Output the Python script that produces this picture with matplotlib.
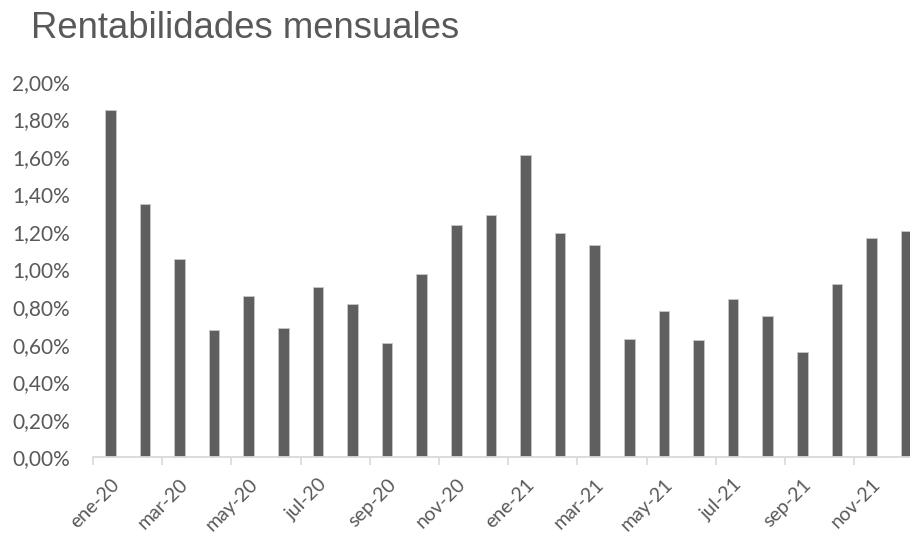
import matplotlib
matplotlib.use("Agg")
import matplotlib.pyplot as plt
from matplotlib.ticker import FixedLocator, FuncFormatter

# Monthly returns (%), January 2020 - December 2021
months = ["ene-20", "feb-20", "mar-20", "abr-20", "may-20", "jun-20",
          "jul-20", "ago-20", "sep-20", "oct-20", "nov-20", "dic-20",
          "ene-21", "feb-21", "mar-21", "abr-21", "may-21", "jun-21",
          "jul-21", "ago-21", "sep-21", "oct-21", "nov-21", "dic-21"]
returns = [1.847, 1.347, 1.054, 0.678, 0.857, 0.690, 0.905, 0.815,
           0.609, 0.978, 1.237, 1.291, 1.611, 1.193, 1.130, 0.629,
           0.779, 0.625, 0.843, 0.751, 0.563, 0.924, 1.166, 1.205]
y_ticks = [0.0, 0.2, 0.4, 0.6, 0.8, 1.0, 1.2, 1.4, 1.6, 1.8, 2.0]

text_color = "#595959"
axis_color = "#d9d9d9"
bar_color = "#5f5f5f"

fig = plt.figure(figsize=(9.1, 5.4), dpi=100)
ax = fig.add_axes([0.1022, 0.1528, 0.9125, 0.696])

x = list(range(len(months)))
ax.bar(x, returns, width=0.31, color=bar_color, edgecolor="#c8c8c8",
       linewidth=0.6, zorder=2)

ax.set_xlim(-0.5, len(months) - 0.5)
ax.set_ylim(0, 2.0)

# y axis: percent labels with decimal comma, no ticks or spine
ax.yaxis.set_major_locator(FixedLocator(y_ticks))
ax.yaxis.set_major_formatter(
    FuncFormatter(lambda v, p: f"{v:.2f}%".replace(".", ",")))
ax.tick_params(axis="y", length=0, pad=16.5, labelsize=15,
               labelcolor=text_color)
for lbl in ax.get_yticklabels():
    lbl.set_fontfamily("Lato")

# x axis: labels every two months, tick marks on category boundaries
label_pos = x[::2]
ax.set_xticks(label_pos)
ax.set_xticklabels(months[::2], rotation=45, ha="right", va="top",
                   rotation_mode="anchor", fontsize=14, color=text_color,
                   family="Lato")
ax.tick_params(axis="x", which="major", length=0, pad=13)
ax.set_xticks([p - 0.5 for p in label_pos], minor=True)
ax.tick_params(axis="x", which="minor", length=6, width=1.2,
               color=axis_color, direction="out")

for side in ("left", "right", "top"):
    ax.spines[side].set_visible(False)
ax.spines["bottom"].set_color(axis_color)
ax.spines["bottom"].set_linewidth(1.3)

fig.text(0.034, 0.93, "Rentabilidades mensuales", fontsize=26.3,
         color=text_color, family="Liberation Sans", ha="left",
         va="baseline")

fig.savefig("out.png", dpi=100)
